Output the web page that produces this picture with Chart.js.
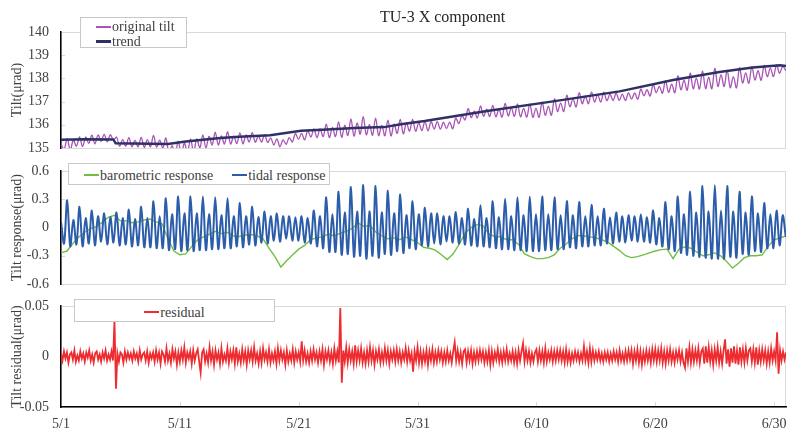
<!DOCTYPE html>
<html>
<head>
<meta charset="utf-8">
<script src="https://cdn.jsdelivr.net/npm/chart.js@4.4.0/dist/chart.umd.min.js"></script>
<style>
  body { margin: 0; background: #fff; }
  #wrap { position: relative; width: 788px; height: 430px; font-family: "Liberation Serif", "Times New Roman", serif; color: #404040; }
  #wrap canvas { position: absolute; left: 0; }
  .title { position: absolute; top: 8px; left: 380px; font-size: 16px; color: #262626; white-space: nowrap; z-index: 6; }
  .legend { position: absolute; box-sizing: border-box; background: #fff; border: 1px solid #c8c8c8; font-size: 14px; color: #404040; z-index: 5; }
  .item { display: flex; align-items: center; white-space: nowrap; line-height: 15px; }
  .swatch { display: inline-block; width: 15px; margin-right: 1px; }
</style>
</head>
<body>
<div id="wrap">
  <canvas id="c1" width="788" height="160" style="top:0"></canvas>
  <canvas id="c2" width="788" height="140" style="top:155px"></canvas>
  <canvas id="c3" width="788" height="140" style="top:290px"></canvas>
  <div class="title">TU-3 X component</div>
  <div class="legend" id="lg1" style="left:80px;top:17px;width:107px;height:31px;padding:1px 0 0 15px"></div>
  <div class="legend" id="lg2" style="left:68px;top:163px;width:262px;height:22px;padding:2px 0 0 15px;display:flex;gap:19px"></div>
  <div class="legend" id="lg3" style="left:74px;top:299px;width:201px;height:23px;padding-top:3px;display:flex;justify-content:center"></div>
</div>
<script>
// x is in days since 5/1
const dayTicks = [0, 10, 20, 30, 40, 50, 60];
const dateLabels = ['5/1', '5/11', '5/21', '5/31', '6/10', '6/20', '6/30'];

const tiltTicks = [135, 136, 137, 138, 139, 140];
const tiltTickLabels = ['135', '136', '137', '138', '139', '140'];
const respTicks = [-0.6, -0.3, 0, 0.3, 0.6];
const respTickLabels = ['-0.6', '-0.3', '0', '0.3', '0.6'];
const residTicks = [-0.05, 0, 0.05];
const residTickLabels = ['-0.05', '0', '0.05'];

// tide-driven series: one value per quarter lunar day (peaks and troughs)
const tidalStep = 0.2595;
const originalTilt = [
  135.17,134.94,135.40,134.91, 135.34,135.08,135.48,135.06, 135.47,135.20,135.55,135.18,
  135.56,135.29,135.59,135.26, 135.58,135.34,135.47,135.08, 135.36,135.08,135.45,135.06,
  135.33,135.05,135.46,135.03, 135.36,135.05,135.54,135.04, 135.34,134.99,135.43,134.80,
  135.10,134.73,135.29,134.71, 135.21,134.82,135.39,134.81, 135.39,135.00,135.57,135.00,
  135.50,135.13,135.68,135.13, 135.52,135.17,135.70,135.17, 135.51,135.19,135.65,135.18,
  135.56,135.26,135.66,135.25, 135.52,135.25,135.58,135.24, 135.43,135.13,135.39,135.05,
  135.35,135.16,135.45,135.26, 135.62,135.37,135.63,135.35, 135.74,135.47,135.82,135.44,
  135.83,135.49,136.03,135.45, 135.89,135.49,136.13,135.46, 135.98,135.54,136.25,135.51,
  136.07,135.60,136.35,135.57, 136.02,135.55,136.29,135.53, 135.97,135.53,136.20,135.52,
  136.03,135.63,136.23,135.61, 136.08,135.73,136.23,135.72, 136.08,135.75,136.15,135.74,
  136.14,135.82,136.14,135.81, 136.11,135.84,136.11,135.83, 136.29,136.05,136.40,136.21,
  136.70,136.31,136.59,136.30, 136.81,136.37,136.67,136.36, 136.84,136.34,136.67,136.33,
  136.92,136.38,136.73,136.37, 136.90,136.34,136.71,136.33, 136.90,136.32,136.71,136.32,
  136.98,136.41,136.79,136.41, 137.12,136.57,136.93,136.57, 137.27,136.78,137.12,136.77,
  137.38,136.91,137.23,136.91, 137.41,136.98,137.29,136.98, 137.41,137.04,137.32,137.04,
  137.36,137.05,137.32,137.04, 137.38,137.11,137.37,137.10, 137.54,137.25,137.51,137.24,
  137.74,137.38,137.66,137.36, 137.90,137.40,137.75,137.38, 138.11,137.51,137.92,137.49,
  138.23,137.55,138.01,137.54, 138.32,137.56,138.05,137.55, 138.43,137.65,138.16,137.65,
  138.35,137.60,138.08,137.59, 138.46,137.80,138.24,137.79, 138.51,137.93,138.33,137.92,
  138.56,138.08,138.44,138.08, 138.58,138.22,138.52,138.33
];
const tidalResponse = [
  0.06,-0.17,0.29,-0.2, 0.08,-0.18,0.22,-0.2, 0.1,-0.17,0.18,-0.19, 0.12,-0.15,0.15,-0.18,
  0.11,-0.16,0.16,-0.19, 0.1,-0.18,0.19,-0.2, 0.09,-0.19,0.22,-0.21, 0.1,-0.21,0.28,-0.22,
  0.12,-0.22,0.31,-0.24, 0.14,-0.23,0.33,-0.25, 0.15,-0.24,0.33,-0.25, 0.15,-0.24,0.33,-0.24,
  0.14,-0.23,0.32,-0.23, 0.13,-0.22,0.31,-0.22, 0.12,-0.2,0.26,-0.21, 0.12,-0.18,0.22,-0.19,
  0.11,-0.16,0.17,-0.17, 0.12,-0.14,0.15,-0.15, 0.12,-0.12,0.12,-0.14, 0.11,-0.14,0.12,-0.16,
  0.1,-0.17,0.18,-0.2, 0.12,-0.22,0.32,-0.26, 0.14,-0.26,0.38,-0.29, 0.16,-0.28,0.43,-0.31,
  0.17,-0.3,0.45,-0.33, 0.17,-0.3,0.44,-0.32, 0.16,-0.28,0.39,-0.29, 0.15,-0.25,0.35,-0.27,
  0.13,-0.22,0.28,-0.23, 0.14,-0.19,0.21,-0.2, 0.15,-0.17,0.15,-0.18, 0.12,-0.15,0.12,-0.16,
  0.165,-0.17,0.1,-0.18, 0.2,-0.19,0.09,-0.2, 0.235,-0.2,0.1,-0.21, 0.28,-0.22,0.11,-0.23,
  0.305,-0.23,0.12,-0.24, 0.32,-0.24,0.13,-0.25, 0.33,-0.25,0.14,-0.25, 0.33,-0.24,0.14,-0.24,
  0.32,-0.23,0.13,-0.23, 0.28,-0.21,0.13,-0.22, 0.27,-0.2,0.12,-0.2, 0.24,-0.19,0.12,-0.19,
  0.2,-0.17,0.11,-0.17, 0.16,-0.15,0.12,-0.16, 0.13,-0.14,0.12,-0.15, 0.14,-0.15,0.11,-0.16,
  0.18,-0.18,0.1,-0.2, 0.27,-0.23,0.12,-0.25, 0.33,-0.27,0.14,-0.29, 0.38,-0.3,0.16,-0.31,
  0.44,-0.32,0.17,-0.33, 0.45,-0.33,0.18,-0.33, 0.44,-0.31,0.17,-0.32, 0.38,-0.28,0.16,-0.29,
  0.33,-0.25,0.15,-0.26, 0.26,-0.22,0.14,-0.22, 0.18,-0.19,0.13,-0.1
];

// trend knots
const trendDays = [0, 2, 4.4, 4.6, 9, 10.5, 13.4, 15, 17.6, 20.2, 22, 24.7, 27.2, 28.6, 30.6, 35.7, 41.4, 47, 51.5, 55.4, 58.2, 60.5, 61];
const trendValues = [135.36, 135.38, 135.37, 135.2, 135.17, 135.28, 135.43, 135.48, 135.55, 135.74, 135.79, 135.86, 135.9, 136.02, 136.16, 136.58, 137.01, 137.44, 137.93, 138.28, 138.47, 138.57, 138.53];

// barometric response, every half day
const baroStep = 0.5;
const barometricResponse = [
  -0.27,-0.25,-0.17,-0.1,-0.05,-0.01,0.01,0.06,0.11,0.13,0.07,0.07,0.05,0.06,0.08,0.09,0.06,0.04,-0.12,-0.25,
  -0.29,-0.28,-0.2,-0.13,-0.1,-0.07,-0.04,-0.065,-0.05,-0.09,-0.095,-0.08,-0.075,-0.09,-0.12,-0.22,-0.31,-0.42,-0.35,-0.29,
  -0.23,-0.19,-0.13,-0.11,-0.1,-0.07,-0.09,-0.06,-0.04,-0.01,0.05,0.01,0.02,-0.05,-0.09,-0.12,-0.11,-0.13,-0.1,-0.13,
  -0.16,-0.21,-0.22,-0.24,-0.29,-0.34,-0.28,-0.18,-0.06,0.0,0.03,0.02,-0.07,-0.095,-0.1,-0.13,-0.13,-0.18,-0.28,-0.31,
  -0.33,-0.33,-0.32,-0.29,-0.22,-0.175,-0.12,-0.085,-0.09,-0.1,-0.11,-0.13,-0.155,-0.2,-0.245,-0.3,-0.32,-0.31,-0.29,-0.27,
  -0.25,-0.235,-0.23,-0.33,-0.23,-0.205,-0.22,-0.26,-0.3,-0.29,-0.27,-0.3,-0.36,-0.43,-0.38,-0.32,-0.3,-0.3,-0.29,-0.2,
  -0.13,-0.11,-0.09
];

// residual, every eighth of a day
const residStep = 0.125;
const residual = [
  0.003,-0.004,0.005,-0.002,0.004,-0.006,0.002,0.004,-0.003,0.006,-0.005,0.001,-0.004,0.005,-0.002,0.003,
  -0.005,0.004,-0.001,0.006,-0.004,0.002,-0.006,0.003,0.005,-0.003,0.002,-0.005,0.004,-0.002,0.006,-0.004,
  0.002,-0.003,0.005,-0.004,0.035,-0.032,0.003,-0.005,0.004,0.002,-0.006,0.005,-0.003,0.004,-0.002,0.003,
  -0.004,0.005,-0.002,0.003,-0.005,0.006,-0.003,0.002,0.004,-0.004,0.005,-0.006,0.003,-0.002,0.004,-0.005,
  0.006,-0.003,0.004,-0.007,0.005,0.002,-0.005,0.008,-0.004,0.003,-0.006,0.007,-0.002,0.005,-0.008,0.004,
  -0.005,0.006,-0.003,0.009,-0.006,0.004,-0.002,0.005,-0.007,0.006,-0.004,0.003,0.007,-0.005,-0.016,0.004,
  0.007,-0.005,0.003,-0.006,0.009,-0.004,0.005,-0.008,0.006,-0.003,0.004,-0.007,0.008,-0.005,0.002,-0.004,
  0.008,-0.006,0.005,-0.003,0.006,-0.007,0.009,-0.005,0.003,-0.006,0.007,-0.004,0.005,-0.008,0.006,-0.003,
  0.006,-0.005,0.009,-0.004,0.003,-0.007,0.005,-0.006,0.008,-0.003,0.004,-0.005,0.007,-0.006,0.003,-0.004,
  0.005,-0.007,0.008,-0.004,0.006,-0.003,0.004,-0.008,0.006,-0.005,0.003,-0.004,0.007,-0.006,0.005,-0.003,
  0.004,-0.005,0.015,-0.004,0.006,-0.005,0.003,-0.006,0.005,-0.004,0.007,-0.003,0.004,-0.006,0.005,-0.004,
  0.007,-0.008,0.005,-0.003,0.006,-0.005,0.004,-0.007,0.008,-0.004,0.005,-0.006,0.048,-0.026,0.006,-0.005,
  0.009,-0.006,0.007,-0.004,0.005,-0.007,0.011,-0.005,0.006,-0.004,0.008,-0.006,0.004,-0.007,0.006,-0.005,
  0.009,-0.004,0.006,-0.008,0.005,-0.003,0.007,-0.006,0.004,-0.005,0.008,-0.004,0.006,-0.007,0.005,-0.003,
  0.006,-0.005,0.007,-0.004,0.005,-0.006,0.004,-0.003,0.008,-0.005,0.006,-0.004,0.003,-0.015,0.005,-0.004,
  0.009,-0.006,0.005,-0.007,0.004,-0.005,0.006,-0.008,0.005,-0.004,0.007,-0.006,0.004,-0.005,0.006,-0.003,
  0.005,-0.006,0.004,-0.005,0.006,-0.004,0.003,-0.006,0.005,0.014,-0.004,0.006,-0.005,0.004,-0.007,0.005,
  0.007,-0.006,0.005,-0.004,0.006,-0.007,0.004,-0.005,0.005,-0.004,0.006,-0.003,0.005,-0.006,0.004,-0.005,
  0.006,-0.008,0.005,-0.006,0.004,-0.003,0.007,-0.005,0.004,-0.006,0.005,-0.004,0.007,-0.005,0.003,-0.004,
  0.005,-0.006,0.004,-0.007,0.006,-0.004,0.005,0.013,-0.005,0.006,-0.004,0.005,-0.006,0.003,-0.005,0.004,
  0.007,-0.005,0.006,-0.004,0.005,-0.006,0.008,-0.005,0.004,-0.003,0.006,-0.005,0.005,-0.004,0.006,-0.003,
  0.006,-0.004,0.005,-0.006,0.007,-0.005,0.004,-0.006,0.003,-0.004,0.005,-0.003,0.004,-0.005,0.003,-0.004,
  0.010,-0.004,0.005,-0.006,0.008,-0.005,0.006,-0.004,0.004,-0.003,0.005,-0.004,0.003,-0.005,0.004,-0.003,
  0.004,-0.005,0.003,-0.004,0.005,-0.003,0.004,-0.005,0.006,-0.004,0.003,-0.005,0.005,-0.004,0.006,-0.003,
  0.006,-0.007,0.005,-0.004,0.007,-0.006,0.005,-0.008,0.004,-0.005,0.006,-0.004,0.005,-0.006,0.007,-0.004,
  0.007,-0.005,0.006,-0.004,0.008,-0.006,0.005,-0.007,0.006,-0.004,0.007,-0.005,0.004,-0.006,0.005,-0.003,
  0.006,-0.005,0.004,-0.006,-0.011,0.008,-0.005,0.009,-0.006,0.007,-0.005,0.006,-0.004,0.008,-0.006,0.005,
  0.008,-0.007,0.010,-0.006,0.009,-0.005,0.006,-0.008,0.007,-0.004,0.009,-0.006,0.005,-0.007,0.006,0.017,
  -0.007,0.007,-0.010,0.008,-0.006,0.010,-0.007,0.006,-0.008,0.009,-0.005,0.007,-0.006,0.008,-0.004,0.006,
  0.008,-0.005,0.007,-0.006,0.009,-0.008,0.006,-0.005,0.007,-0.004,0.006,-0.007,0.005,-0.006,0.008,-0.004,
  0.005,-0.004,0.024,-0.017,0.006,-0.004,0.005,-0.003,0.004
];

const serif = '"Liberation Serif", "Times New Roman", serif';
const textColor = '#404040';

function stepped(values, step) {
  return values.map((v, i) => ({ x: i * step, y: v }));
}

// light plot frame plus short inner tick marks, drawn under the axes
const framePlugin = {
  id: 'frame',
  beforeDraw(chart) {
    const { ctx, chartArea: a, scales } = chart;
    ctx.save();
    ctx.strokeStyle = '#d9d9d9';
    ctx.lineWidth = 1;
    ctx.strokeRect(a.left + 0.5, a.top + 0.5, a.width - 1, a.height);
    ctx.beginPath();
    scales.y.ticks.forEach(t => {
      const py = Math.round(scales.y.getPixelForValue(t.value)) + 0.5;
      ctx.moveTo(a.left, py); ctx.lineTo(a.left + 4, py);
    });
    if (scales.x.options.display) {
      scales.x.ticks.forEach(t => {
        const px = Math.round(scales.x.getPixelForValue(t.value)) + 0.5;
        ctx.moveTo(px, a.bottom); ctx.lineTo(px, a.bottom - 5);
      });
    }
    ctx.stroke();
    ctx.restore();
  }
};

function zeroPad(s) { s.paddingLeft = 0; s.paddingRight = 0; s.paddingTop = 0; s.paddingBottom = 0; }

function makeChart(id, datasets, yTicks, yLabels, yTitle, padding, showX) {
  return new Chart(document.getElementById(id), {
    type: 'line',
    data: { datasets },
    options: {
      responsive: false,
      animation: false,
      events: [],
      layout: { padding },
      elements: { point: { radius: 0 } },
      plugins: { legend: { display: false }, tooltip: { enabled: false } },
      scales: {
        x: {
          type: 'linear', min: 0, max: 61, display: showX,
          afterBuildTicks: s => { s.ticks = dayTicks.map(v => ({ value: v })); },
          afterFit: s => { zeroPad(s); s.height = showX ? 23 : 0; },
          ticks: { padding: 9, maxRotation: 0, autoSkip: false, color: textColor,
                   font: { family: serif, size: 14 }, callback: (v, i) => dateLabels[i] },
          grid: { drawOnChartArea: false, drawTicks: false },
          border: { color: '#000', width: 1.5 }
        },
        y: {
          type: 'linear', min: yTicks[0], max: yTicks[yTicks.length - 1],
          afterBuildTicks: s => { s.ticks = yTicks.map(v => ({ value: v })); },
          afterFit: s => { zeroPad(s); s.width = 61; },
          ticks: { padding: 12, autoSkip: false, color: textColor, font: { family: serif, size: 14 },
                   callback: (v, i) => yLabels[i] },
          grid: { drawOnChartArea: false, drawTicks: false },
          border: { color: '#000', width: 1.5 },
          title: { display: true, text: yTitle, color: textColor,
                   font: { family: serif, size: 14 }, padding: { top: 9, bottom: 0 } }
        }
      }
    },
    plugins: [framePlugin]
  });
}

const chart1 = makeChart('c1', [
  { label: 'original tilt', data: stepped(originalTilt, tidalStep), borderColor: '#a855b5', borderWidth: 1.3, tension: 0.35, order: 1 },
  { label: 'trend', data: trendDays.map((d, i) => ({ x: d, y: trendValues[i] })), borderColor: '#2e3166', borderWidth: 2.5, tension: 0, order: 0 }
], tiltTicks, tiltTickLabels, 'Tilt(\u03bcrad)', { top: 32, right: 2, bottom: 12, left: 0 }, false);

const chart2 = makeChart('c2', [
  { label: 'barometric response', data: stepped(barometricResponse, baroStep), borderColor: '#70bf44', borderWidth: 1.4, tension: 0, order: 1 },
  { label: 'tidal response', data: stepped(tidalResponse, tidalStep), borderColor: '#2c5daa', borderWidth: 2, tension: 0.35, order: 0 }
], respTicks, respTickLabels, 'Tilt response(\u03bcrad)', { top: 16, right: 2, bottom: 11, left: 0 }, false);

const chart3 = makeChart('c3', [
  { label: 'residual', data: stepped(residual, residStep), borderColor: '#ee2b2f', borderWidth: 1.8, tension: 0 }
], residTicks, residTickLabels, 'Tilt residual(\u03bcrad)', { top: 16, right: 2, bottom: 0, left: 0 }, true);

// boxed legends built from the chart datasets
function fillLegend(boxId, chart) {
  const box = document.getElementById(boxId);
  chart.data.datasets.forEach(ds => {
    const item = document.createElement('div');
    item.className = 'item';
    const sw = document.createElement('span');
    sw.className = 'swatch';
    sw.style.borderTop = Math.max(2, Math.round(ds.borderWidth)) + 'px solid ' + ds.borderColor;
    const tx = document.createElement('span');
    tx.textContent = ds.label;
    item.appendChild(sw);
    item.appendChild(tx);
    box.appendChild(item);
  });
}
fillLegend('lg1', chart1);
fillLegend('lg2', chart2);
fillLegend('lg3', chart3);
</script>
</body>
</html>
